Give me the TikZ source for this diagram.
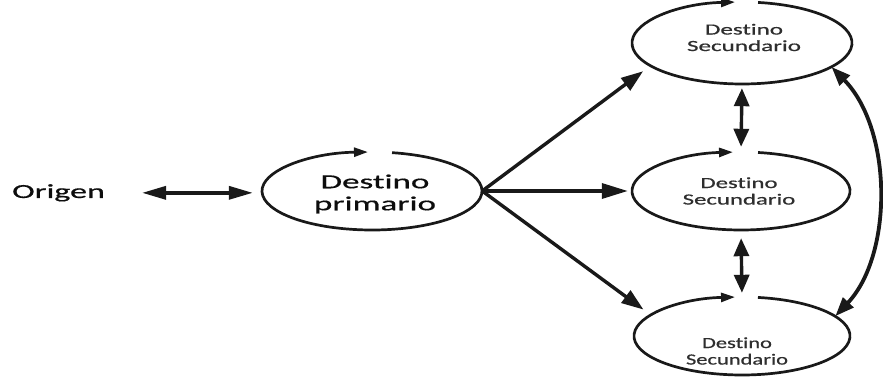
\documentclass[tikz,border=0pt]{standalone}
\usepackage{fontspec}
\setmainfont[Ligatures=NoCommon, FakeBold=0.5]{Carlito}
\usetikzlibrary{arrows.meta,shapes.geometric,calc}
\newcommand{\hs}[2][1.7]{\scalebox{#1}[1]{#2}}
\newcommand{\ringarc}[5]{%
  \draw[ringline] ($(#1.center)+(#4:#2 and #3)$) arc[start angle=#4, end angle=#5, x radius=#2, y radius=#3];}
\tikzset{
  ellbox/.style n args={2}{ellipse, inner sep=0pt, minimum width=#1, minimum height=#2},
  ringline/.style={line width=2.7pt, black!90, -{Triangle[length=14pt,width=9pt]}},
  conn/.style={line width=3.4pt, black!90},
  primtxt/.style={align=center, inner sep=0pt, text=black!95, font=\fontsize{20}{22}\selectfont},
  sectxt/.style={align=center, inner sep=0pt, text=black!82, font=\fontsize{15.5}{16.5}\selectfont},
  origtxt/.style={inner sep=0pt, text=black!95, font=\fontsize{20}{24}\selectfont},
}
\begin{document}
\begin{tikzpicture}[x=1pt,y=1pt]
\fill[white] (0,0) rectangle (883,380);
\useasboundingbox (0,0) rectangle (883,380);

% ellipse nodes
\node[ellbox={220pt}{78pt}] (p) at (372,189) {};
\node[ellbox={220pt}{82pt}] (s1) at (742,337) {};
\node[ellbox={218pt}{78pt}] (s2) at (741,189) {};
\node[ellbox={216pt}{78pt}] (s3) at (742,44) {};

% texts
\node[origtxt, anchor=base west] (o) at (12,182) {\hs{Origen}};
\node[primtxt] (tp) at (375,186) {\hs[1.75]{Destino}\\\hs[1.75]{primario}};
\node[sectxt] (t1) at (744,342.5) {\hs[1.62]{Destino}\\\hs[1.62]{Secundario}};
\node[sectxt] (t2) at (739,189) {\hs[1.6]{Destino}\\\hs[1.6]{Secundario}};
\node[sectxt] (t3) at (737,29) {\hs[1.45]{Destino}\\\hs[1.45]{Secundario}};

% gapped rings with circulating arrow
\ringarc{p}{110pt}{39pt}{79.5}{-267.9}
\ringarc{s1}{110pt}{41pt}{81.6}{-266.4}
\ringarc{s2}{109pt}{39pt}{81.0}{-265.8}
\ringarc{s3}{108pt}{39pt}{81.5}{-266.3}

% origin double arrow
\draw[conn, {Triangle[length=24pt,width=13pt]}-{Triangle[length=24pt,width=13pt]},
      shorten <=37pt, shorten >=9pt] (o.east) -- (o.east -| p.west);

% fan
\draw[conn, -{Triangle[length=22pt,width=15pt]}, shorten >=9pt] (p.east) -- (s1.194);
\draw[conn, -{Triangle[length=26pt,width=15pt]}, shorten >=4pt] (p.east) -- (s2.west);
\draw[conn, -{Triangle[length=22pt,width=15pt]}, shorten >=9pt] (p.east) -- (s3.167);

% vertical double arrows
\draw[conn, {Triangle[length=18pt,width=15pt]}-{Triangle[length=18pt,width=15pt]},
      shorten <=4pt, shorten >=5pt] (s1.south) -- (s2.north);
\draw[conn, {Triangle[length=18pt,width=15pt]}-{Triangle[length=18pt,width=15pt]},
      shorten <=8pt, shorten >=4pt] (s2.south) -- (s3.north);

% curved double arrow on the right
\draw[line width=3.8pt, black!90, {Triangle[length=19pt,width=14pt]}-{Triangle[length=19pt,width=14pt]}]
  (s1.-15) .. controls (893,250) and (893,125) .. (s3.12);
\end{tikzpicture}
\end{document}
